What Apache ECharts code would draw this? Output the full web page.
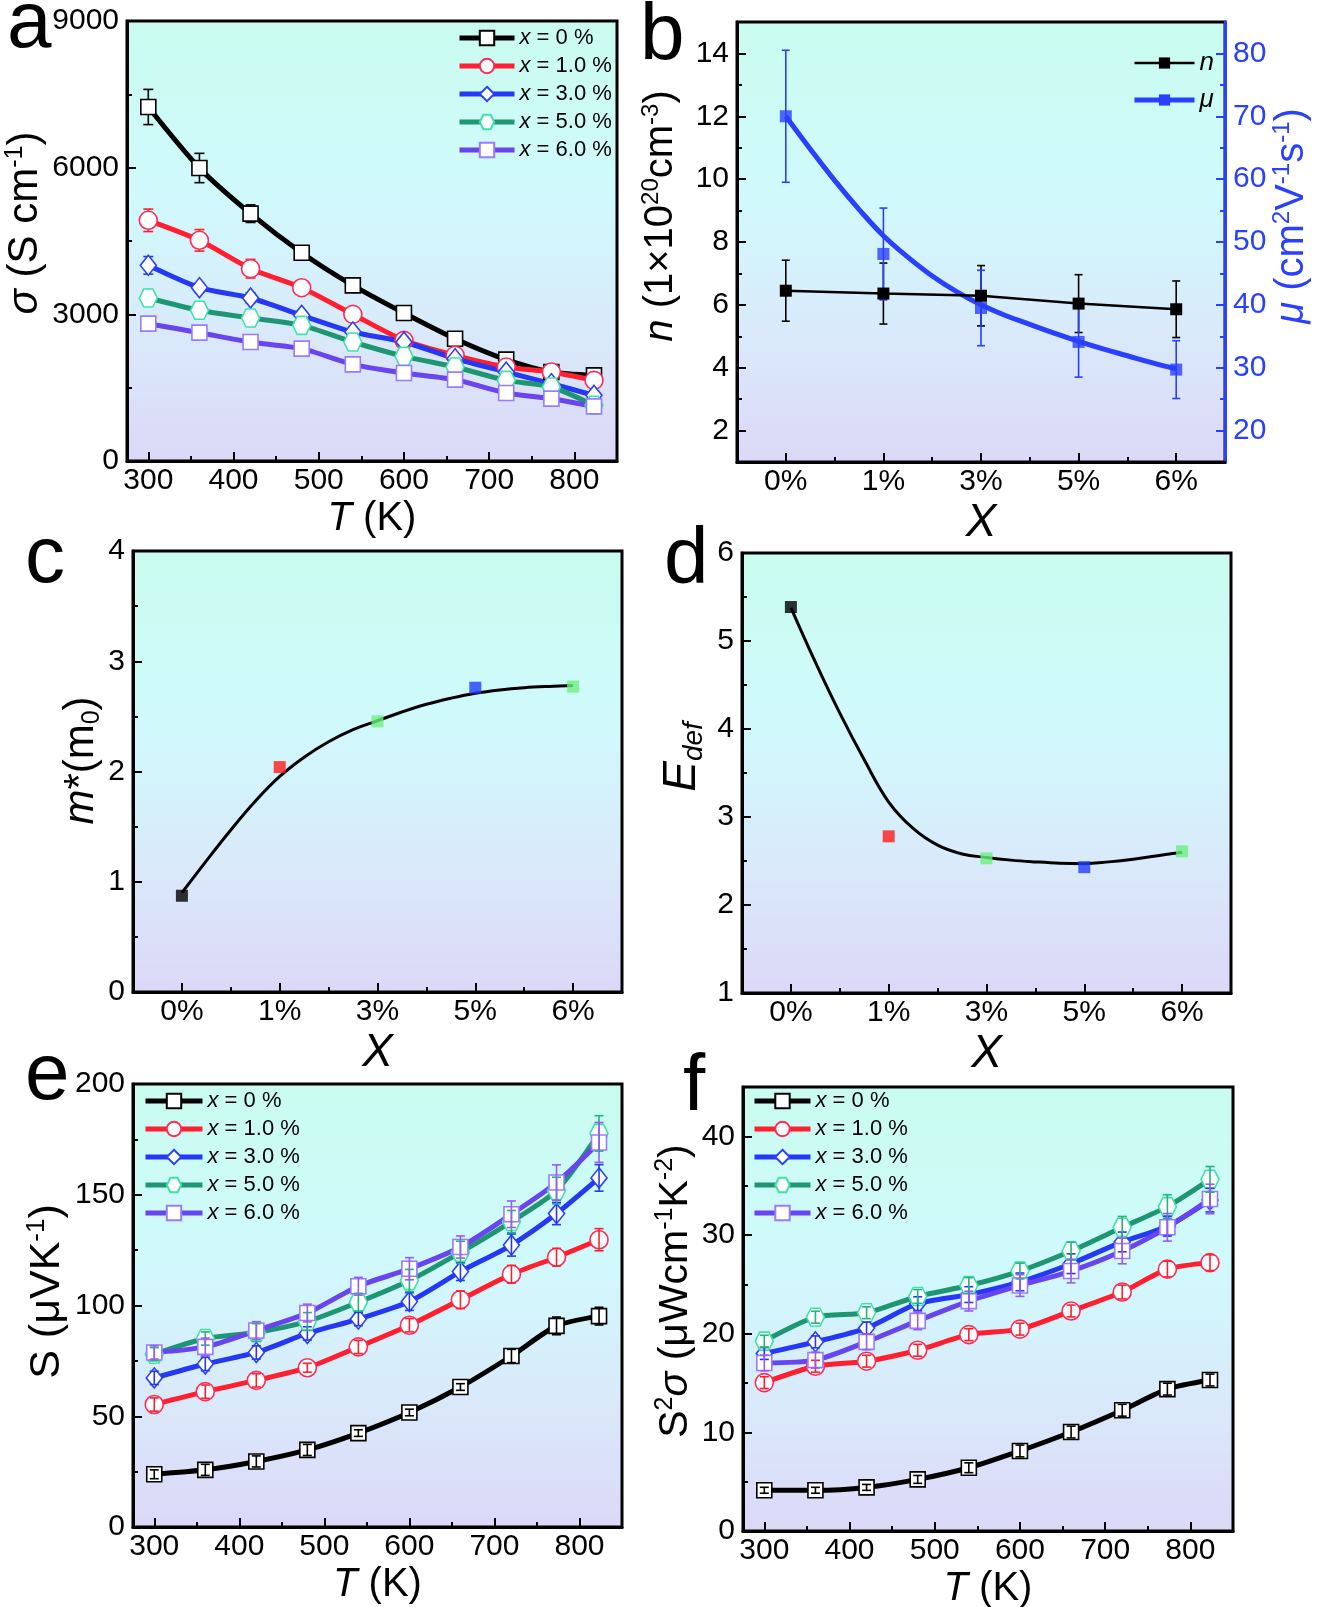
<!DOCTYPE html>
<html>
<head>
<meta charset="utf-8">
<script src="https://cdn.jsdelivr.net/npm/echarts@6.0.0/dist/echarts.min.js"></script>
<style>
html,body{margin:0;padding:0;background:#ffffff;}
#chart{width:1323px;height:1607px;}
</style>
</head>
<body>
<div id="chart"></div>
<script>
// ================= DATA =================
const tempK = [300, 360, 420, 480, 540, 600, 660, 720, 773, 823];
const tempTickLabels = [300, 400, 500, 600, 700, 800];
const tempMinorTicks = [350, 450, 550, 650, 750];
const dopingNames = ['x = 0 %', 'x = 1.0 %', 'x = 3.0 %', 'x = 5.0 %', 'x = 6.0 %'];
const xCats = ['0%', '1%', '3%', '5%', '6%'];

// (a) electrical conductivity sigma (S cm-1)
const sigma0 = [7241, 5993, 5059, 4261, 3593, 3027, 2502, 2073, 1820, 1752];
const sigma1 = [4923, 4514, 3934, 3545, 3000, 2468, 2161, 1923, 1820, 1650];
const sigma3 = [4002, 3545, 3334, 2980, 2639, 2434, 2093, 1820, 1582, 1343];
const sigma5 = [3334, 3082, 2925, 2775, 2434, 2141, 1923, 1650, 1514, 1139];
const sigma6 = [2809, 2625, 2434, 2298, 1977, 1800, 1664, 1391, 1275, 1118];
const sigmaErr0 = [360, 300, 180, 130, 80, 60, 60, 50, 60, 60];
const sigmaErr1 = [230, 220, 190, 120, 70, 60, 60, 50, 60, 60];
const sigmaErr3 = [180, 90, 100, 90, 80, 80, 100, 100, 90, 80];
const sigmaErr5 = [160, 90, 100, 100, 100, 100, 110, 130, 120, 120];
const sigmaErr6 = [120, 120, 110, 100, 110, 110, 100, 120, 110, 110];

// (b) carrier concentration n and mobility mu
const carrierN = [6.45, 6.36, 6.29, 6.04, 5.86];
const carrierNErr = [0.97, 0.97, 0.96, 0.92, 0.90];
const mobility = [70, 48.1, 39.5, 34.1, 29.7];
const mobilityErr = [10.5, 7.3, 6.0, 5.6, 4.6];
// fitted curves at these category positions
const fitPosX = [0, 0.25, 0.5, 0.75, 1, 1.25, 1.5, 1.75, 2, 2.25, 2.5, 2.75, 3, 3.25, 3.5, 3.75, 4];
const mobilityFit = [70, 64.8, 59.8, 55.2, 51, 47.6, 44.6, 42.1, 40, 38.3, 36.9, 35.5, 34.2, 33, 31.9, 30.8, 29.8];

// (c) effective mass m*
const effMass = [0.873, 2.04, 2.455, 2.76, 2.77];
const effMassFit = [0.9, 1.19, 1.47, 1.73, 1.955, 2.13, 2.27, 2.38, 2.46, 2.54, 2.61, 2.665, 2.71, 2.74, 2.76, 2.772, 2.78];

// (d) deformation potential E_def
const defPot = [5.386, 2.78, 2.53, 2.43, 2.61];
const defPotFit = [5.38, 4.76, 4.18, 3.65, 3.17, 2.87, 2.68, 2.58, 2.54, 2.51, 2.49, 2.475, 2.47, 2.49, 2.52, 2.56, 2.60];

// (e) Seebeck coefficient S (uV K-1)
const seebeck0 = [23.8, 25.8, 29.6, 34.8, 42.4, 51.7, 63.2, 77.2, 90.8, 95.2];
const seebeck1 = [55.3, 61.1, 66.2, 71.9, 81.3, 91.1, 102.6, 114.1, 121.8, 129.7];
const seebeck3 = [67.3, 73.6, 78.8, 87.4, 93.9, 101.8, 115.3, 127.3, 141.5, 157.6];
const seebeck5 = [78.0, 85.1, 87.8, 92.8, 101.5, 111.3, 124.0, 137.9, 151.9, 177.7];
const seebeck6 = [78.8, 81.3, 88.7, 96.6, 108.7, 116.6, 126.4, 141.2, 155.5, 173.6];
const seebeckErr0 = [2, 2.5, 2.5, 2.5, 1.5, 1.5, 1.5, 3, 4, 4];
const seebeckErr1 = [3, 3, 3, 2, 3, 3, 4, 4, 4, 5];
const seebeckErr3 = [3, 3, 3, 3, 3, 4, 4, 5, 5, 6];
const seebeckErr5 = [3, 3, 4, 4, 4, 5, 5, 5, 6, 8];
const seebeckErr6 = [3, 4, 4, 4, 4, 5, 5, 6, 8, 9];

// (f) power factor S^2 sigma (uW cm-1 K-2)
const pf0 = [4.13, 4.13, 4.42, 5.23, 6.41, 8.11, 10.03, 12.24, 14.38, 15.3];
const pf1 = [15.04, 16.7, 17.21, 18.32, 19.9, 20.46, 22.3, 24.22, 26.54, 27.2];
const pf3 = [17.99, 19.17, 20.57, 23.04, 23.96, 25.25, 27.09, 29.3, 30.89, 33.54];
const pf5 = [19.24, 21.67, 22.12, 23.77, 24.88, 26.35, 28.38, 30.78, 32.88, 35.64];
const pf6 = [17.03, 17.32, 19.17, 21.3, 23.3, 24.88, 26.35, 28.38, 30.78, 33.65];
const pfErr0 = [0.3, 0.3, 0.3, 0.4, 0.5, 0.6, 0.6, 0.6, 0.6, 0.6];
const pfErr1 = [0.6, 0.6, 0.6, 0.6, 0.6, 0.6, 0.6, 0.7, 0.8, 0.8];
const pfErr3 = [0.6, 0.6, 0.6, 0.7, 0.8, 0.9, 1.0, 1.0, 1.0, 1.2];
const pfErr5 = [0.6, 0.6, 0.6, 0.7, 0.8, 0.8, 0.9, 1.1, 1.2, 1.3];
const pfErr6 = [0.8, 0.8, 0.8, 0.9, 1.0, 1.1, 1.2, 1.3, 1.4, 1.5];

// ================= STYLE =================
const FONT = '"Liberation Sans", Arial, sans-serif';
const HEX = 'path://M-1,0 L-0.5,-0.866 L0.5,-0.866 L1,0 L0.5,0.866 L-0.5,0.866 Z';
const LINE_COL = ['#000000', '#ff1f2f', '#2438f5', '#1f9672', '#6845ee'];
const EDGE_COL = ['#000000', '#ff2a55', '#2a40ff', '#3fe2a6', '#9a7bff'];
const ERR_COL = ['#000000', '#ff1f2f', '#2438f5', '#22b37f', '#9a5cf0'];
const SYMS = ['rect', 'circle', 'diamond', HEX, 'rect'];
const SYM_SIZE = [15, 18, [16, 20], 18, 15];
const PT_COL = ['#000000', '#ff1a1a', '#6cf07f', '#1f3dff', '#6cf07f'];
const BLUE = '#2a40ff';

function bg() {
  return new echarts.graphic.LinearGradient(0, 0, 0, 1, [
    {offset: 0, color: '#c9fcef'}, {offset: 0.4, color: '#d0f9fc'},
    {offset: 0.7, color: '#d9eafa'}, {offset: 1, color: '#dcd8f8'}]);
}
const gridBoxes = [
  {left: 127, top: 21, width: 490, height: 440},
  {left: 737, top: 22, width: 488, height: 440},
  {left: 133, top: 551, width: 489, height: 441},
  {left: 742, top: 553, width: 489, height: 440},
  {left: 133, top: 1084, width: 489, height: 443},
  {left: 743, top: 1087, width: 490, height: 444}
];
const grids = gridBoxes.map(g => Object.assign({show: true, borderColor: '#000', borderWidth: 3,
  backgroundColor: bg(), containLabel: false, outerBoundsMode: 'none'}, g));

function rich(fs, col) {
  const s = Math.round(fs * 0.6);
  return {
    i: {fontStyle: 'italic', fontSize: fs, fontFamily: FONT, color: col, lineHeight: Math.round(fs * 1.1)},
    sup: {fontSize: s, fontFamily: FONT, color: col, verticalAlign: 'top', lineHeight: s},
    sub: {fontSize: s, fontFamily: FONT, color: col, verticalAlign: 'bottom', lineHeight: s},
    isub: {fontSize: s, fontStyle: 'italic', fontFamily: FONT, color: col, verticalAlign: 'bottom', lineHeight: s}
  };
}
function nameStyle(fs, col, shift) {
  const st = {fontSize: fs, fontFamily: FONT, color: col, lineHeight: Math.round(fs * 1.1), rich: rich(fs, col)};
  if (shift) st.padding = [0, 0, 0, shift * 2];
  return st;
}

const xAxes = [], yAxes = [], series = [];
function mkAxis(list, gi, min, max, o) {
  const col = o.color || '#000';
  const ax = {
    type: 'value', gridIndex: gi, min: min, max: max, position: o.position,
    splitLine: {show: false}, minorTick: {show: false}, minorSplitLine: {show: false},
    axisPointer: {show: false},
    axisLine: {show: !o.minor, onZero: false, lineStyle: {color: col, width: 3}},
    axisTick: {show: true, inside: true, length: o.minor ? 5 : 9, customValues: o.ticks,
      lineStyle: {color: col, width: 2}},
    axisLabel: {show: false}
  };
  if (!o.minor) {
    ax.axisLabel = {show: true, customValues: o.labels, margin: o.margin, color: col,
      fontSize: 30, fontFamily: FONT, formatter: o.formatter || (v => String(v))};
  }
  if (o.name) {
    ax.name = o.name;
    ax.nameLocation = 'middle';
    ax.nameGap = o.nameGap;
    if (o.nameRotate !== undefined) ax.nameRotate = o.nameRotate;
    ax.nameTextStyle = nameStyle(o.nameSize || 40, col, o.shift);
  }
  list.push(ax);
  return list.length - 1;
}
const catFmt = v => (Number.isInteger(v) ? xCats[v] : '');

function tempXAxis(gi, nameGap) {
  const x = mkAxis(xAxes, gi, 275, 850, {position: 'bottom', labels: tempTickLabels, ticks: tempTickLabels,
    margin: 5, name: '{i|T} (K)', nameGap: nameGap});
  mkAxis(xAxes, gi, 275, 850, {position: 'bottom', minor: true, ticks: tempMinorTicks});
  return x;
}
function catXAxis(gi, nameGap) {
  const x = mkAxis(xAxes, gi, -0.5, 4.5, {position: 'bottom', labels: [0, 1, 2, 3, 4], ticks: [0, 1, 2, 3, 4],
    margin: 5, formatter: catFmt, name: '{i|X}', nameGap: nameGap, nameSize: 46});
  mkAxis(xAxes, gi, -0.5, 4.5, {position: 'bottom', minor: true, ticks: [0.5, 1.5, 2.5, 3.5]});
  return x;
}
function valYAxis(gi, min, max, labels, minors, o) {
  const y = mkAxis(yAxes, gi, min, max, Object.assign({position: o.position || 'left', labels: labels, ticks: labels,
    margin: 8, nameRotate: 90}, o));
  mkAxis(yAxes, gi, min, max, {position: o.position || 'left', minor: true, ticks: minors, color: o.color});
  return y;
}

function tLine(xi, yi, ys, k, z) {
  return {type: 'line', name: dopingNames[k], xAxisIndex: xi, yAxisIndex: yi,
    data: tempK.map((t, j) => [t, ys[j]]), smooth: 0.25, symbol: SYMS[k], symbolSize: SYM_SIZE[k],
    showSymbol: true, showAllSymbol: true, silent: true, z: z,
    lineStyle: {color: LINE_COL[k], width: 5},
    itemStyle: {color: '#ffffff', borderColor: EDGE_COL[k], borderWidth: 1.6}};
}
function errBars(xi, yi, xs, ys, es, color, cap, z, tag) {
  return {type: 'custom', name: 'err-' + tag, xAxisIndex: xi, yAxisIndex: yi, silent: true, z: z,
    data: xs.map((x, j) => [x, ys[j], es[j]]),
    renderItem: function (params, api) {
      const x = api.value(0), y = api.value(1), e = api.value(2);
      const p1 = api.coord([x, y + e]), p2 = api.coord([x, y - e]);
      const w = cap / 2, st = {stroke: color, lineWidth: 1.6};
      return {type: 'group', children: [
        {type: 'line', shape: {x1: p1[0], y1: p1[1], x2: p2[0], y2: p2[1]}, style: st},
        {type: 'line', shape: {x1: p1[0] - w, y1: p1[1], x2: p1[0] + w, y2: p1[1]}, style: st},
        {type: 'line', shape: {x1: p2[0] - w, y1: p2[1], x2: p2[0] + w, y2: p2[1]}, style: st}
      ]};
    }};
}

// ----- panel a -----
{
  const xi = tempXAxis(0, 30);
  const yi = valYAxis(0, 0, 9000, [0, 3000, 6000, 9000], [1500, 4500, 7500],
    {name: '{i|σ} (S cm{sup|-1})', nameGap: 74, nameSize: 42, shift: 18});
  const vals = [sigma0, sigma1, sigma3, sigma5, sigma6];
  const errs = [sigmaErr0, sigmaErr1, sigmaErr3, sigmaErr5, sigmaErr6];
  vals.forEach((v, k) => {
    series.push(errBars(xi, yi, tempK, v, errs[k], ERR_COL[k], 10, 2, 'a' + k));
    series.push(tLine(xi, yi, v, k, 3));
  });
}
// ----- panel b -----
{
  const xi = catXAxis(1, 33);
  const yl = valYAxis(1, 1, 15, [2, 4, 6, 8, 10, 12, 14], [3, 5, 7, 9, 11, 13],
    {name: '{i|n} (1×10{sup|20}cm{sup|-3})', nameGap: 54, nameSize: 40, shift: 26});
  const yr = valYAxis(1, 15, 85, [20, 30, 40, 50, 60, 70, 80], [25, 35, 45, 55, 65, 75],
    {position: 'right', color: BLUE, name: '{i|μ} (cm{sup|2}V{sup|-1}s{sup|-1})', nameGap: 40, nameSize: 40, shift: 26});
  series.push(errBars(xi, yl, [0, 1, 2, 3, 4], carrierN, carrierNErr, '#000', 8, 4, 'bn'));
  series.push(errBars(xi, yr, [0, 1, 2, 3, 4], mobility, mobilityErr, BLUE, 8, 4, 'bm'));
  series.push({type: 'line', name: 'n', xAxisIndex: xi, yAxisIndex: yl,
    data: carrierN.map((v, j) => [j, v]), symbol: 'rect', symbolSize: 12, silent: true, z: 5,
    lineStyle: {color: '#000', width: 2.5}, itemStyle: {color: '#000'}});
  series.push({type: 'line', name: 'μ', xAxisIndex: xi, yAxisIndex: yr,
    data: fitPosX.map((x, j) => [x, mobilityFit[j]]), smooth: 0.4, symbol: 'rect', symbolSize: 12,
    showSymbol: false, silent: true, z: 3,
    lineStyle: {color: BLUE, width: 5}, itemStyle: {color: BLUE}});
  series.push({type: 'scatter', name: 'mu-points', xAxisIndex: xi, yAxisIndex: yr,
    data: mobility.map((v, j) => [j, v]), symbol: 'rect', symbolSize: 12, silent: true, z: 5,
    itemStyle: {color: BLUE}});
}
// ----- panel c -----
{
  const xi = catXAxis(2, 33);
  const yi = valYAxis(2, 0, 4, [0, 1, 2, 3, 4], [0.5, 1.5, 2.5, 3.5],
    {name: '{i|m}*(m{sub|0})', nameGap: 28, nameSize: 42, shift: 11});
  series.push({type: 'line', name: 'm-fit', xAxisIndex: xi, yAxisIndex: yi,
    data: fitPosX.map((x, j) => [x, effMassFit[j]]), smooth: 0.4, symbol: 'none', silent: true, z: 3,
    lineStyle: {color: '#000', width: 3}});
  series.push({type: 'scatter', name: 'm-points', xAxisIndex: xi, yAxisIndex: yi, symbol: 'rect', symbolSize: 12,
    silent: true, z: 5, data: effMass.map((v, j) => ({value: [j, v], itemStyle: {color: PT_COL[j]}}))});
}
// ----- panel d -----
{
  const xi = catXAxis(3, 33);
  const yi = valYAxis(3, 1, 6, [1, 2, 3, 4, 5, 6], [1.5, 2.5, 3.5, 4.5, 5.5],
    {name: '{i|E}{isub|def}', nameGap: 34, nameSize: 46, shift: 16});
  series.push({type: 'line', name: 'E-fit', xAxisIndex: xi, yAxisIndex: yi,
    data: fitPosX.map((x, j) => [x, defPotFit[j]]), smooth: 0.4, symbol: 'none', silent: true, z: 3,
    lineStyle: {color: '#000', width: 3}});
  series.push({type: 'scatter', name: 'E-points', xAxisIndex: xi, yAxisIndex: yi, symbol: 'rect', symbolSize: 12,
    silent: true, z: 5, data: defPot.map((v, j) => ({value: [j, v], itemStyle: {color: PT_COL[j]}}))});
}
// ----- panel e -----
{
  const xi = tempXAxis(4, 34);
  const yi = valYAxis(4, 0, 200, [0, 50, 100, 150, 200], [25, 75, 125, 175],
    {name: 'S (μVK{sup|-1})', nameGap: 58, nameSize: 43, shift: 14});
  const vals = [seebeck0, seebeck1, seebeck3, seebeck5, seebeck6];
  const errs = [seebeckErr0, seebeckErr1, seebeckErr3, seebeckErr5, seebeckErr6];
  vals.forEach((v, k) => {
    series.push(tLine(xi, yi, v, k, 3));
    series.push(errBars(xi, yi, tempK, v, errs[k], ERR_COL[k], 9, 4, 'e' + k));
  });
}
// ----- panel f -----
{
  const xi = tempXAxis(5, 34);
  const yi = valYAxis(5, 0, 45, [0, 10, 20, 30, 40], [5, 15, 25, 35],
    {name: 'S{sup|2}{i|σ} (μWcm{sup|-1}K{sup|-2})', nameGap: 44, nameSize: 41, shift: 18});
  const vals = [pf0, pf1, pf3, pf5, pf6];
  const errs = [pfErr0, pfErr1, pfErr3, pfErr5, pfErr6];
  vals.forEach((v, k) => {
    series.push(tLine(xi, yi, v, k, 3));
    series.push(errBars(xi, yi, tempK, v, errs[k], ERR_COL[k], 9, 4, 'f' + k));
  });
}

function dopLegend(left, top, width) {
  return {orient: 'vertical', left: left, top: top, padding: 0, itemWidth: width, itemHeight: 18, itemGap: 6,
    selectedMode: false, data: dopingNames, formatter: nm => '{i|x}' + nm.slice(1),
    lineStyle: {width: 5},
    textStyle: {fontSize: 22, fontFamily: FONT, color: '#000', lineHeight: 22,
      rich: {i: {fontStyle: 'italic', fontSize: 22, fontFamily: FONT, lineHeight: 22}}}};
}
const legends = [
  dopLegend(457, 27, 55),
  {orient: 'vertical', left: 1132, top: 50, padding: 0, itemWidth: 60, itemHeight: 14, itemGap: 11,
    selectedMode: false,
    data: [{name: 'n', lineStyle: {width: 2.5}}, {name: 'μ', lineStyle: {width: 5}}],
    formatter: nm => '{i|' + nm + '}',
    textStyle: {fontSize: 26, fontFamily: FONT, color: '#000', lineHeight: 24,
      rich: {i: {fontStyle: 'italic', fontSize: 26, fontFamily: FONT, lineHeight: 24}}}},
  dopLegend(143, 1090, 57),
  dopLegend(752, 1090, 56)
];

function letter(ch, x, y) {
  return {type: 'text', x: x, y: y, silent: true, z: 10,
    style: {text: ch, font: '80px "Liberation Sans", Arial, sans-serif', fill: '#000', align: 'left', verticalAlign: 'middle'}};
}

const option = {
  animation: false,
  backgroundColor: '#ffffff',
  textStyle: {fontFamily: FONT},
  grid: grids,
  xAxis: xAxes,
  yAxis: yAxes,
  legend: legends,
  series: series,
  graphic: [letter('a', 7, 25), letter('b', 640, 37), letter('c', 25, 560),
    letter('d', 664, 561), letter('e', 25, 1077), letter('f', 683, 1088)]
};
const chart = echarts.init(document.getElementById('chart'), null, {renderer: 'canvas', width: 1323, height: 1607});
chart.setOption(option);
</script>
</body>
</html>
